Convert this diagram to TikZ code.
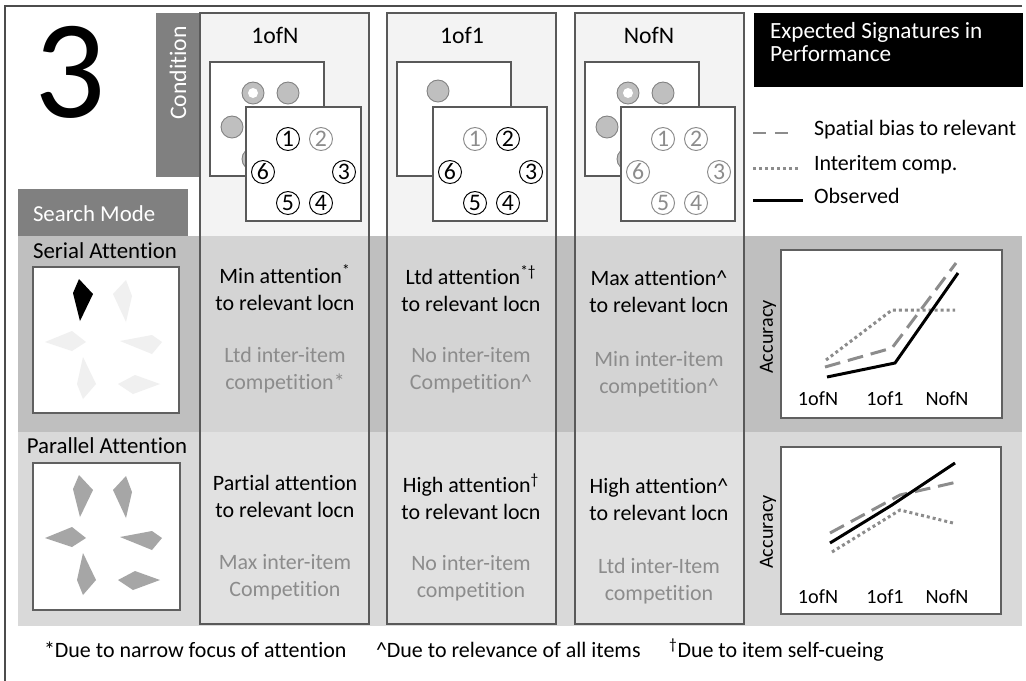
\documentclass[tikz,border=0pt]{standalone}
\usepackage{fontspec}
\setmainfont{Carlito}[Ligatures=NoCommon]
\definecolor{dkbox}{gray}{0.5}
\definecolor{bandA}{gray}{0.75}
\definecolor{bandB}{gray}{0.85}
\definecolor{colfill}{gray}{0.914}
\definecolor{edge}{gray}{0.35}
\definecolor{lgray}{gray}{0.55}
\definecolor{circfill}{gray}{0.75}
\definecolor{circedge}{gray}{0.5}
\definecolor{kitelight}{gray}{0.94}
\definecolor{kitemid}{gray}{0.65}
\begin{document}
\begin{tikzpicture}[x=0.02cm,y=-0.02cm,
  base/.style={inner sep=0pt,outer sep=0pt,font=\fontsize{12.5}{15.4}\selectfont},
  celltxt/.style={base,align=center,text=black},
  cellgray/.style={base,align=center,text=lgray},
  column/.style={draw=edge,line width=0.9pt,fill=colfill,fill opacity=0.5},
  sq/.style={draw=edge,line width=0.85pt,fill=white},
  picsq/.style={draw=gray!75!black,line width=0.9pt,fill=white},
  graphsq/.style={draw=gray!75!black,line width=0.9pt,fill=white},
  bcirc/.style={circle,draw=circedge,fill=circfill,line width=0.5pt,minimum size=22*0.02cm,inner sep=0pt},
  ncirc/.style={circle,draw=black,fill=white,line width=0.55pt,minimum size=23*0.02cm,inner sep=0pt,font=\fontsize{13.5}{13.5}\selectfont},
  gcirc/.style={ncirc,draw=lgray,text=lgray},
  solidln/.style={line width=1.7pt,black},
  dashln/.style={line width=1.7pt,lgray,dash pattern=on 9pt off 4.5pt},
  dotln/.style={line width=1.7pt,lgray,dash pattern=on 1.7pt off 1.7pt},
  axlab/.style={base,font=\fontsize{11.5}{13}\selectfont},
  collab/.style={base,font=\fontsize{13.5}{15}\selectfont},
]
\useasboundingbox (0,0) rectangle (1026,680);
\fill[white] (0,0) rectangle (1026,680);
% frame
\draw[gray!60!black,line width=0.8pt] (1022,6) -- (5,6) -- (5,681);

% bands
\fill[bandA] (18,236) rectangle (1022,432);
\fill[bandB] (18,432) rectangle (1022,626);

% big number
\node[base,font=\fontsize{80}{80}\selectfont] (num) at (70,72) {3};

% condition box
\fill[dkbox] (156,13) rectangle (200,177);
\node[base,text=white,rotate=90,font=\fontsize{13.5}{15}\selectfont] (cond) at (178,73) {Condition};

% search mode box
\fill[dkbox] (18,189) rectangle (188,236);
\node[base,text=white,anchor=west,font=\fontsize{13}{15}\selectfont] (smode) at (33,214) {Search Mode};

% columns
\foreach \cx in {200,387,575}{
  \draw[column] (\cx,13) rectangle ++(169,611);
}

% column labels
\node[collab] (c1lab) at (275,35) {1ofN};
\node[collab] (c2lab) at (462,35) {1of1};
\node[collab] (c3lab) at (649,35) {NofN};

% ---- column 1 displays
\begin{scope}[shift={(210,62)}]
  \draw[sq] (0,0) rectangle (114,114);
  \node[bcirc] (a1) at (43,31) {};
  \fill[white] (43,31) circle (5);
  \node[bcirc] (a2) at (78,31) {};
  \node[bcirc] (a3) at (22,65) {};
  \node[bcirc] (a4) at (98,65) {};
  \node[bcirc] (a5) at (43,97) {};
  \node[bcirc] (a6) at (78,97) {};
\end{scope}
\begin{scope}[shift={(246,107)}]
  \draw[sq] (0,0) rectangle (115,114);
  \node[ncirc] (b1) at (42,32) {1};
  \node[gcirc] (b2) at (75,32) {2};
  \node[ncirc] (b6) at (17,65) {6};
  \node[ncirc] (b3) at (98,65) {3};
  \node[ncirc] (b5) at (42,96) {5};
  \node[ncirc] (b4) at (75,96) {4};
\end{scope}

% ---- column 2 displays
\begin{scope}[shift={(397,62)}]
  \draw[sq] (0,0) rectangle (114,114);
  \node[bcirc] (c1) at (41,29) {};
\end{scope}
\begin{scope}[shift={(433,107)}]
  \draw[sq] (0,0) rectangle (114,114);
  \node[gcirc] (d1) at (42,32) {1};
  \node[ncirc] (d2) at (75,32) {2};
  \node[ncirc] (d6) at (17,65) {6};
  \node[ncirc] (d3) at (98,65) {3};
  \node[ncirc] (d5) at (42,96) {5};
  \node[ncirc] (d4) at (75,96) {4};
\end{scope}

% ---- column 3 displays
\begin{scope}[shift={(585,62)}]
  \draw[sq] (0,0) rectangle (114,114);
  \node[bcirc] (e1) at (43,31) {};
  \fill[white] (43,31) circle (5);
  \node[bcirc] (e2) at (78,31) {};
  \node[bcirc] (e3) at (22,65) {};
  \node[bcirc] (e4) at (98,65) {};
  \node[bcirc] (e5) at (43,97) {};
  \node[bcirc] (e6) at (78,97) {};
\end{scope}
\begin{scope}[shift={(621,107)}]
  \draw[sq] (0,0) rectangle (114,114);
  \node[gcirc] (f1) at (42,32) {1};
  \node[gcirc] (f2) at (75,32) {2};
  \node[gcirc] (f6) at (17,65) {6};
  \node[gcirc] (f3) at (98,65) {3};
  \node[gcirc] (f5) at (42,96) {5};
  \node[gcirc] (f4) at (75,96) {4};
\end{scope}

% legend box
\fill[black] (754,13) rectangle (1023,87);
\node[base,text=white,anchor=north west,align=left,font=\fontsize{13.2}{13.5pt}\selectfont] (legtitle) at (770,22) {Expected Signatures in\\[0pt]Performance};

% legend items
\coordinate (l1a) at (753,133); \coordinate (l1b) at (792,133);
\coordinate (l2a) at (753,168); \coordinate (l2b) at (800,168);
\coordinate (l3a) at (753,200); \coordinate (l3b) at (803,200);
\draw[lgray,line width=1.7pt,dash pattern=on 7.5pt off 5pt] (l1a) -- (l1b);
\draw[dotln] (l2a) -- (l2b);
\draw[solidln] (l3a) -- (l3b);
\node[base,anchor=west] (leg1) at (814,130) {Spatial bias to relevant};
\node[base,anchor=west] (leg2) at (814,165) {Interitem comp.};
\node[base,anchor=west] (leg3) at (814,196) {Observed};

% row labels
\node[base,font=\fontsize{13}{15}\selectfont] (serlab) at (105,251) {Serial Attention};
\node[base,font=\fontsize{13}{15}\selectfont] (parlab) at (107,446) {Parallel Attention};

% kite shapes
\newcommand{\kites}[2]{%
  \fill[#1] (46,12) -- (40,26) -- (47,54) -- (60,27) -- cycle;
  \fill[#2] (93,13) -- (80,27) -- (93,55) -- (99,29) -- cycle;
  \fill[#2] (12,75) -- (39,64) -- (53,75) -- (39,84) -- cycle;
  \fill[#2] (87,74) -- (119,68) -- (129,75) -- (119,87) -- cycle;
  \fill[#2] (50,90) -- (44,117) -- (50,132) -- (63,117) -- cycle;
  \fill[#2] (85,117) -- (102,108) -- (127,117) -- (100,127) -- cycle;}
\begin{scope}[shift={(33,267)}]
  \draw[picsq] (0,0) rectangle (146,146);
  \kites{black}{kitelight}
\end{scope}
\begin{scope}[shift={(33,463)}]
  \draw[picsq] (0,0) rectangle (147,147);
  \kites{kitemid}{kitemid}
\end{scope}

% row 1 text
\node[celltxt] (r1c1a) at (285,287.5) {Min attention\textsuperscript{*}\\to relevant locn};
\node[cellgray] (r1c1b) at (285,370.5) {Ltd inter-item\\competition*};
\node[celltxt] (r1c2a) at (471,288.5) {Ltd attention\textsuperscript{*\textdagger}\\to relevant locn};
\node[cellgray] (r1c2b) at (471,370) {No inter-item\\Competition\^{}};
\node[celltxt] (r1c3a) at (659,291.5) {Max attention\^{}\\to relevant locn};
\node[cellgray] (r1c3b) at (659,374.5) {Min inter-item\\competition\^{}};

% row 2 text
\node[celltxt] (r2c1a) at (285,496.5) {Partial attention\\to relevant locn};
\node[cellgray] (r2c1b) at (285,577) {Max inter-item\\Competition};
\node[celltxt] (r2c2a) at (471,496.5) {High attention\textsuperscript{\textdagger}\\to relevant locn};
\node[cellgray] (r2c2b) at (471,578.5) {No inter-item\\competition};
\node[celltxt] (r2c3a) at (659,499.5) {High attention\^{}\\to relevant locn};
\node[cellgray] (r2c3b) at (659,581.5) {Ltd inter-Item\\competition};

% graph 1
\draw[graphsq] (781,250) rectangle (1002,418);
\node[axlab,rotate=90] (acc1) at (768,337) {Accuracy};
\node[axlab] (g1x1) at (818,399) {1ofN};
\node[axlab] (g1x2) at (885,399) {1of1};
\node[axlab] (g1x3) at (947,399) {NofN};
\coordinate (s1a) at (827,377); \coordinate (s1b) at (895,363); \coordinate (s1c) at (958,273);
\coordinate (d1a) at (825,367); \coordinate (d1b) at (892,348); \coordinate (d1c) at (956,263);
\coordinate (p1a) at (826,360); \coordinate (p1b) at (892,310); \coordinate (p1c) at (955,310);
\draw[dotln] (p1a) -- (p1b) -- (p1c);
\draw[dashln] (d1a) -- (d1b) -- (d1c);
\draw[solidln] (s1a) -- (s1b) -- (s1c);

% graph 2
\draw[graphsq] (781,447) rectangle (1001,614);
\node[axlab,rotate=90] (acc2) at (768,532) {Accuracy};
\node[axlab] (g2x1) at (818,597) {1ofN};
\node[axlab] (g2x2) at (885,597) {1of1};
\node[axlab] (g2x3) at (947,597) {NofN};
\coordinate (s2a) at (830,543); \coordinate (s2b) at (892,505); \coordinate (s2c) at (955,463);
\coordinate (d2a) at (830,533); \coordinate (d2b) at (900,495); \coordinate (d2c) at (957,482);
\coordinate (p2a) at (832,552); \coordinate (p2b) at (900,510); \coordinate (p2c) at (953,523);
\draw[dotln] (p2a) -- (p2b) -- (p2c);
\draw[dashln] (d2a) -- (d2b) -- (d2c);
\draw[solidln] (s2a) -- (s2b) -- (s2c);

% footnotes
\node[base,anchor=west] (fn1) at (44,650) {*Due to narrow focus of attention};
\node[base,anchor=west] (fn2) at (376,650) {\^{}Due to relevance of all items};
\node[base,anchor=west] (fn3) at (669,650) {\textsuperscript{\textdagger}Due to item self-cueing};
\end{tikzpicture}
\end{document}
